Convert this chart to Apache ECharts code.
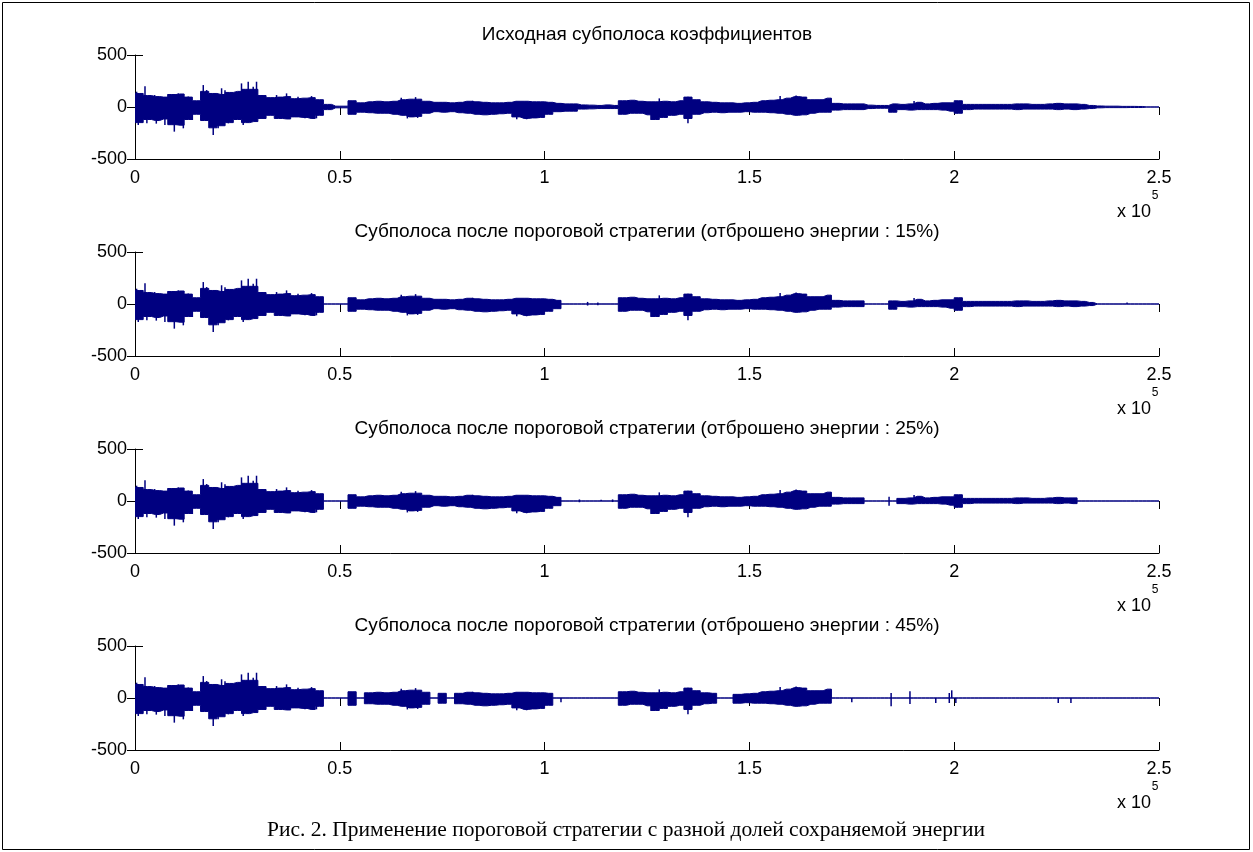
<!DOCTYPE html>
<html><head><meta charset="utf-8">
<script src="https://cdn.jsdelivr.net/npm/echarts@6/dist/echarts.min.js"></script>
<style>html,body{margin:0;padding:0;background:#fff}#c{width:1253px;height:852px}</style>
</head><body><div id="c"></div>
<script>
// Envelope of the original coefficient subband, one value per 2000-sample bin
const binSize = 2000;
const envHi = [
  130,110,100,95,120,125,95,60,
  150,130,120,140,150,170,170,110,90,
  95,100,80,85,90,70,25,8,8,
  60,40,50,55,
  50,55,70,75,75,55,45,45,40,45,
  55,50,45,40,40,45,55,55,50,50,
  45,35,30,30,20,18,15,20,15,60,
  65,55,50,50,55,50,60,95,70,50,
  45,40,40,35,40,45,60,65,70,85,
  100,95,70,70,85,35,30,30,30,18,
  15,15,30,25,30,45,30,35,40,40,
  60,25,25,25,25,25,25,30,30,25,
  25,30,35,30,30,25,15,10,8,8,
  6,6,5,0,0
];
const envLo = [
  -150,-120,-130,-115,-170,-175,-120,-70,
  -130,-200,-180,-150,-120,-150,-140,-110,-80,
  -110,-115,-95,-100,-110,-80,-25,-8,-8,
  -70,-50,-55,-60,
  -60,-70,-80,-95,-90,-60,-45,-50,-45,-55,
  -60,-70,-75,-70,-65,-60,-95,-110,-105,-100,
  -70,-45,-40,-40,-20,-18,-15,-15,-15,-70,
  -60,-60,-75,-120,-100,-80,-70,-110,-70,-55,
  -50,-55,-50,-50,-45,-50,-50,-55,-60,-70,
  -80,-75,-60,-50,-50,-30,-25,-25,-25,-15,
  -12,-12,-50,-25,-30,-25,-25,-25,-30,-40,
  -60,-25,-20,-20,-20,-20,-20,-25,-20,-20,
  -20,-20,-25,-20,-25,-20,-15,-8,-6,-6,
  -6,-5,-5,0,0
];
// Prominent single spikes [sample, value]
const peaks = [
  [400,147],[800,-173],[2440,200],[2900,-157],[4800,115],[5200,-160],[7300,-173],[8130,125],
  [9600,-237],[10570,131],[11800,-205],[13000,100],[14000,-125],
  [16670,211],[17500,163],[19100,-269],[20300,-205],[21140,180],[21970,160],[22800,-157],
  [24600,-125],[26000,227],[26420,-173],[27640,243],[28860,195],[29670,243],[31000,115],[31800,-95],
  [34560,115],[37000,131],[39800,99],[41500,-109],[43100,105],[44300,-109],
  [65000,90],[66500,-110],[68500,95],[69000,-105],[82400,61],[93200,-118],[95600,-118],
  [126000,-125],[128000,83],[135000,99],[135000,-157],[157500,105],[161400,110],[169900,83],
  [190200,58],[200500,51],[200800,-61]
];
const titles = [
  'Исходная субполоса коэффициентов',
  'Субполоса после пороговой стратегии (отброшено энергии : 15%)',
  'Субполоса после пороговой стратегии (отброшено энергии : 25%)',
  'Субполоса после пороговой стратегии (отброшено энергии : 45%)'
];
// Sample ranges set to zero by thresholding, per subplot
const zero0 = [];
const zero15 = [[46500,52000],[104500,118000],[178500,184000],[234000,250001]];
const zero25 = [[46500,52000],[103500,118000],[178500,186500],[231000,250001]];
const zero45 = [[46300,52000],[54400,56600],[72500,73500],[76500,77500],[101700,118300],[121200,122400],
  [142700,145900],[165400,166500],[170500,250001]];
// Isolated surviving coefficients [sample, value]
const blips0 = [];
const blips15 = [[110500,20],[110500,-15],[113000,15],[113000,-12],[242200,15]];
const blips25 = [[108500,15],[108500,-12],[113800,12],[116600,15],[116600,-10],[184100,40],[184100,-45]];
const blips45 = [[104000,-40],[175000,-40],[184600,48],[184600,-80],[189200,64],[189200,-58],[195500,-48],
  [198800,48],[198800,-48],[199400,74],[200400,-48],[225400,-48],[228500,-48]];
const xTicks = ['0','0.5','1','1.5','2','2.5'];
const caption = 'Рис. 2. Применение пороговой стратегии с разной долей сохраняемой энергии';

const zeroSets = [zero0, zero15, zero25, zero45];
const blipSets = [blips0, blips15, blips25, blips45];

const NAVY = '#000080';
const FONT = 'Liberation Sans, Arial, sans-serif';
const FS = 18;
const FT = 19;
const gridTops = [55, 252, 449, 646];
const gridH = 104;
const gridLeft = 135, gridRight = 94;

function isZero(x, ranges) { return ranges.some(r => x >= r[0] && x < r[1]); }
function buildLine(env, ranges) {
  const d = [[0, isZero(0, ranges) ? 0 : env[0]]];
  env.forEach((v, k) => { const x = k * binSize + binSize / 2; d.push([x, isZero(x, ranges) ? 0 : v]); });
  d.push([250000, 0]);
  return d;
}

const grids = [], xAxes = [], yAxes = [], series = [], graphics = [];
const axLine = { show: true, onZero: false, lineStyle: { color: '#000', width: 1 } };
const tick = { show: true, inside: true, length: 8, lineStyle: { color: '#000', width: 1 } };
gridTops.forEach((top, i) => {
  grids.push({ left: gridLeft, right: gridRight, top: top, height: gridH, containLabel: false });
  xAxes.push({ type: 'value', gridIndex: i, position: 'bottom', min: 0, max: 250000, interval: 50000,
    axisLine: axLine, axisTick: tick, splitLine: { show: false },
    axisLabel: { color: '#000', fontFamily: FONT, fontSize: FS, margin: 10,
      formatter: v => xTicks[Math.round(v / 50000)] } });
  xAxes.push({ type: 'value', gridIndex: i, position: 'top', min: 0, max: 250000, interval: 50000,
    axisLine: { show: false }, axisTick: tick, axisLabel: { show: false }, splitLine: { show: false } });
  yAxes.push({ type: 'value', gridIndex: i, position: 'left', min: -500, max: 500, interval: 500,
    axisLine: axLine, axisTick: tick, splitLine: { show: false },
    axisLabel: { color: '#000', fontFamily: FONT, fontSize: FS, margin: 8, padding: [7, 0, 0, 0] } });
  yAxes.push({ type: 'value', gridIndex: i, position: 'right', min: -500, max: 500, interval: 500,
    axisLine: { show: false }, axisTick: tick, axisLabel: { show: false }, splitLine: { show: false } });
  const zr = zeroSets[i];
  const common = { type: 'line', step: 'middle', xAxisIndex: 2 * i, yAxisIndex: 2 * i, symbol: 'none', silent: true,
    animation: false, lineStyle: { color: NAVY, width: 1 }, areaStyle: { color: NAVY, opacity: 1 } };
  series.push(Object.assign({}, common, { data: buildLine(envHi, zr) }));
  series.push(Object.assign({}, common, { data: buildLine(envLo, zr) }));
  const spikes = peaks.filter(p => !isZero(p[0], zr)).concat(blipSets[i]);
  series.push({ type: 'bar', xAxisIndex: 2 * i, yAxisIndex: 2 * i, barWidth: 1.5, silent: true, animation: false,
    itemStyle: { color: NAVY }, data: spikes });
  graphics.push({ type: 'text', x: 647, y: top - 20, style: { text: titles[i], fill: '#000', font: FT + 'px ' + FONT,
    textAlign: 'center', textVerticalAlign: 'middle' } });
  graphics.push({ type: 'text', x: 1151, y: top + 157, style: { text: 'x 10', fill: '#000', font: FS + 'px ' + FONT,
    textAlign: 'right', textVerticalAlign: 'middle' } });
  graphics.push({ type: 'text', x: 1155, y: top + 141, style: { text: '5', fill: '#000', font: '12px ' + FONT,
    textAlign: 'center', textVerticalAlign: 'middle' } });
});
graphics.push({ type: 'text', x: 626, y: 830, style: { text: caption, fill: '#000',
  font: '21.5px Liberation Serif, Times New Roman, serif', textAlign: 'center', textVerticalAlign: 'middle' } });
graphics.push({ type: 'rect', shape: { x: 2.5, y: 2.5, width: 1247, height: 847 }, style: { fill: 'none', stroke: '#000', lineWidth: 1 } });

const chart = echarts.init(document.getElementById('c'));
chart.setOption({ backgroundColor: '#fff', animation: false, grid: grids, xAxis: xAxes, yAxis: yAxes,
  series: series, graphic: graphics });
</script></body></html>
